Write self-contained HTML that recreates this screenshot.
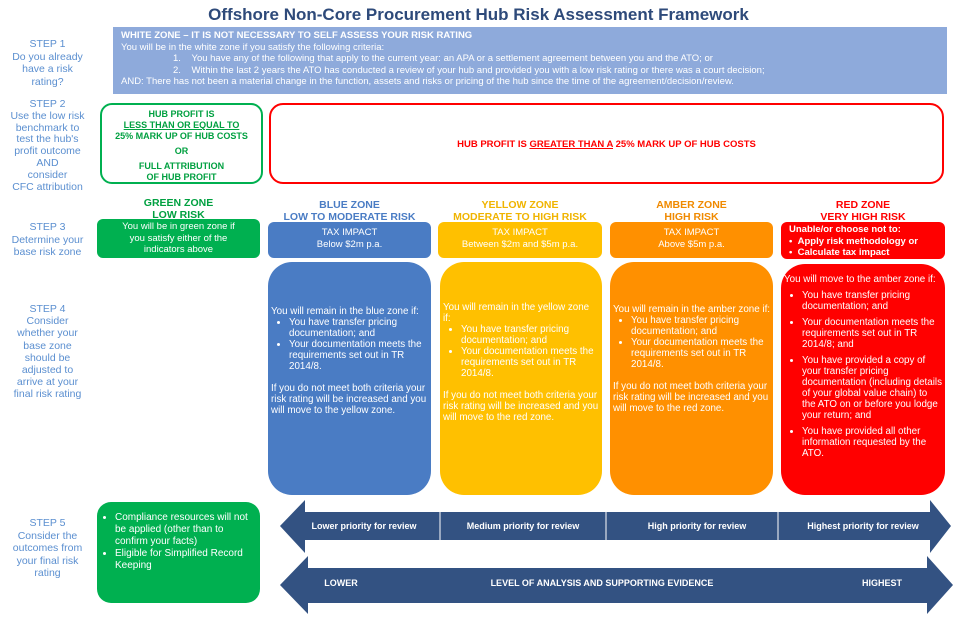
<!DOCTYPE html>
<html><head><meta charset="utf-8"><style>
body{margin:0;width:957px;height:618px;background:#fff;position:relative;overflow:hidden;font-family:"Liberation Sans",sans-serif}
.a{position:absolute}
.step{position:absolute;left:0;width:95px;text-align:center;color:#5b8fd0;font-size:10.5px;line-height:12.5px}
.zt{position:absolute;text-align:center;font-size:10.5px;font-weight:bold;line-height:12px}
.rb{position:absolute;color:#fff;font-size:9.5px;line-height:11.5px;text-align:center;border-radius:6px}
.big{position:absolute;color:#fff;font-size:9.8px;line-height:11px;border-radius:24px;box-sizing:border-box;padding:0 3px}
.big ul{margin:0;padding-left:18px}
.big li{margin:0}
</style></head><body>
<div class="a" style="left:0;top:5px;width:957px;text-align:center;color:#2e4a7a;font-size:17px;font-weight:bold">Offshore Non-Core Procurement Hub Risk Assessment Framework</div>
<div class="a" style="left:113px;top:27px;width:834px;height:67px;background:#8eaadb;color:#fff;font-size:9.5px;line-height:11.5px;box-sizing:border-box;padding:3px 8px;white-space:nowrap">
<div style="font-weight:bold;font-size:9.5px">WHITE ZONE – IT IS NOT NECESSARY TO SELF ASSESS YOUR RISK RATING</div>
<div>You will be in the white zone if you satisfy the following criteria:</div>
<div style="padding-left:52px">1.&nbsp;&nbsp;&nbsp;&nbsp;You have any of the following that apply to the current year: an APA or a settlement agreement between you and the ATO; or</div>
<div style="padding-left:52px">2.&nbsp;&nbsp;&nbsp;&nbsp;Within the last 2 years the ATO has conducted a review of your hub and provided you with a low risk rating or there was a court decision;</div>
<div>AND: There has not been a material change in the function, assets and risks or pricing of the hub since the time of the agreement/decision/review.</div>
</div>
<div class="step" style="top:38px">STEP 1<br>Do you already<br>have a risk<br>rating?</div>
<div class="step" style="top:99px;line-height:11.8px">STEP 2<br>Use the low risk<br>benchmark to<br>test the hub's<br>profit outcome<br>AND<br>consider<br>CFC attribution</div>
<div class="step" style="top:221px">STEP 3<br>Determine your<br>base risk zone</div>
<div class="step" style="top:303px;line-height:12.2px">STEP 4<br>Consider<br>whether your<br>base zone<br>should be<br>adjusted to<br>arrive at your<br>final risk rating</div>
<div class="step" style="top:517px">STEP 5<br>Consider the<br>outcomes from<br>your final risk<br>rating</div>

<div class="a" style="left:100px;top:103px;width:159px;border:2px solid #00b050;border-radius:12px;color:#00a040;font-size:9px;font-weight:bold;text-align:center;line-height:11px;padding-top:4px;height:73px">HUB PROFIT IS<br><u>LESS THAN OR EQUAL TO</u><br>25% MARK UP OF HUB COSTS<br><div style="height:4px"></div>OR<br><div style="height:4px"></div>FULL ATTRIBUTION<br>OF HUB PROFIT</div>
<div class="a" style="left:269px;top:103px;width:671px;height:77px;border:2px solid #ff0000;border-radius:14px;color:#ff0000;font-size:9.5px;font-weight:bold;text-align:center;line-height:80px">HUB PROFIT IS <u>GREATER THAN A</u> 25% MARK UP OF HUB COSTS</div>

<div class="zt" style="left:97px;width:163px;top:197px;color:#00a040">GREEN ZONE<br>LOW RISK</div>
<div class="zt" style="left:268px;width:163px;top:199px;color:#4a7cc4">BLUE ZONE<br>LOW TO MODERATE RISK</div>
<div class="zt" style="left:438px;width:164px;top:199px;color:#f0b400">YELLOW ZONE<br>MODERATE TO HIGH RISK</div>
<div class="zt" style="left:610px;width:163px;top:199px;color:#f08a00">AMBER ZONE<br>HIGH RISK</div>
<div class="zt" style="left:781px;width:164px;top:199px;color:#ff0000">RED ZONE<br>VERY HIGH RISK</div>

<div class="rb" style="left:97px;top:219px;width:163px;height:39px;background:#00b050;padding-top:2px;box-sizing:border-box">You will be in green zone if<br>you satisfy either of the<br>indicators above</div>
<div class="rb" style="left:268px;top:222px;width:163px;height:36px;background:#4a7cc4;padding-top:5px;box-sizing:border-box">TAX IMPACT<br>Below $2m p.a.</div>
<div class="rb" style="left:438px;top:222px;width:164px;height:36px;background:#ffc000;padding-top:5px;box-sizing:border-box">TAX IMPACT<br>Between $2m and $5m p.a.</div>
<div class="rb" style="left:610px;top:222px;width:163px;height:36px;background:#ff9000;padding-top:5px;box-sizing:border-box">TAX IMPACT<br>Above $5m p.a.</div>
<div class="rb" style="left:781px;top:222px;width:164px;height:37px;background:#ff0000;text-align:left;font-weight:bold;padding:2px 0 0 8px;box-sizing:border-box;font-size:9.5px">Unable/or choose not to:<br>&bull;&nbsp;&nbsp;Apply risk methodology or<br>&bull;&nbsp;&nbsp;Calculate tax impact</div>

<div class="big" style="left:268px;top:262px;width:163px;height:233px;background:#4a7cc4;padding-top:44px">You will remain in the blue zone if:<ul><li>You have transfer pricing documentation; and</li><li>Your documentation meets the requirements set out in TR 2014/8.</li></ul><br>If you do not meet both criteria your risk rating will be increased and you will move to the yellow zone.</div>
<div class="big" style="left:440px;top:262px;width:162px;height:233px;background:#ffc000;padding-top:40px">You will remain in the yellow zone if:<ul><li>You have transfer pricing documentation; and</li><li>Your documentation meets the requirements set out in TR 2014/8.</li></ul><br>If you do not meet both criteria your risk rating will be increased and you will move to the red zone.</div>
<div class="big" style="left:610px;top:262px;width:163px;height:233px;background:#ff9000;padding-top:42px">You will remain in the amber zone if:<ul><li>You have transfer pricing documentation; and</li><li>Your documentation meets the requirements set out in TR 2014/8.</li></ul><br>If you do not meet both criteria your risk rating will be increased and you will move to the red zone.</div>
<div class="big" style="left:781px;top:264px;width:164px;height:231px;background:#ff0000;padding-top:10px">You will move to the amber zone if:<ul><li style="margin:5px 0">You have transfer pricing documentation; and</li><li style="margin:5px 0">Your documentation meets the requirements set out in TR 2014/8; and</li><li style="margin:5px 0">You have provided a copy of your transfer pricing documentation (including details of your global value chain) to the ATO on or before you lodge your return; and</li><li>You have provided all other information requested by the ATO.</li></ul></div>

<div class="a" style="left:97px;top:502px;width:163px;height:101px;background:#00b050;border-radius:14px;color:#fff;font-size:10px;line-height:12px;padding:10px 4px 0 0;box-sizing:border-box">
<ul style="margin:0;padding-left:18px"><li>Compliance resources will not be applied (other than to confirm your facts)</li><li>Eligible for Simplified Record Keeping</li></ul></div>

<svg class="a" style="left:0;top:0" width="957" height="618">
<polygon points="280,526 305,500 305,512 930,512 930,500 951,526 930,553 930,540 305,540 305,553" fill="#335282"/>
<line x1="440" y1="512" x2="440" y2="540" stroke="#fff" stroke-width="1"/>
<line x1="606" y1="512" x2="606" y2="540" stroke="#fff" stroke-width="1"/>
<line x1="778" y1="512" x2="778" y2="540" stroke="#fff" stroke-width="1"/>
<polygon points="280,585 308,556 308,568 927,568 927,556 953,585 927,614 927,603 308,603 308,614" fill="#335282"/>
<g fill="#fff" font-family="Liberation Sans,sans-serif" font-size="9" font-weight="bold" text-anchor="middle">
<text x="364" y="529">Lower priority for review</text>
<text x="523" y="529">Medium priority for review</text>
<text x="697" y="529">High priority for review</text>
<text x="863" y="529">Highest priority for review</text>
<text x="341" y="586">LOWER</text>
<text x="602" y="586">LEVEL OF ANALYSIS AND SUPPORTING EVIDENCE</text>
<text x="882" y="586">HIGHEST</text>
</g>
</svg>
</body></html>
